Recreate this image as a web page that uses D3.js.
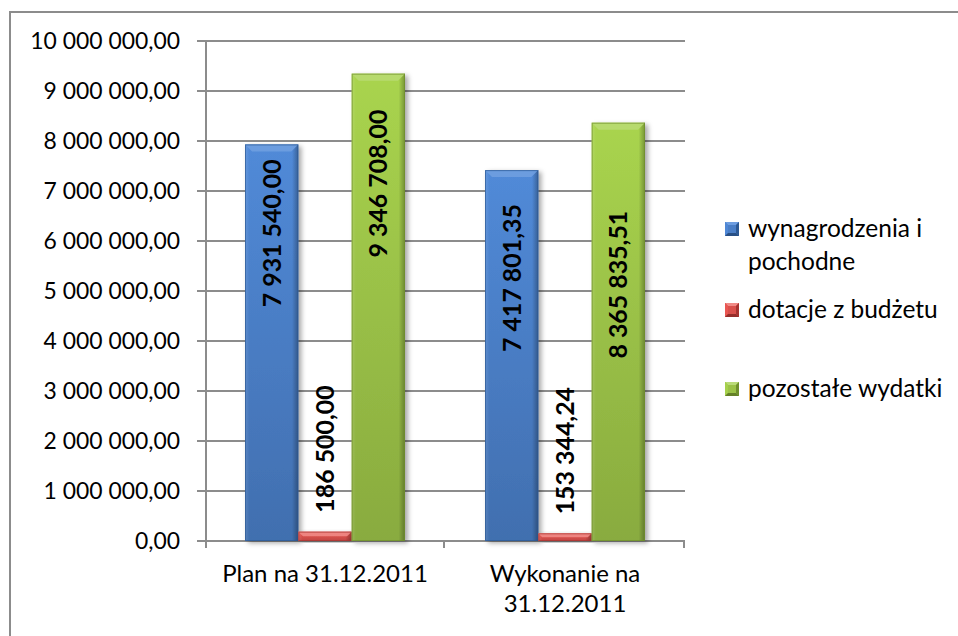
<!DOCTYPE html>
<html>
<head>
<meta charset="utf-8">
<script src="https://cdn.jsdelivr.net/npm/d3@7"></script>
<style>
	body { margin: 0; background: #fff; }
	svg text { font-family: Lato, "Open Sans", sans-serif; fill: #000; }
</style>
</head>
<body>
<svg id="main" width="958" height="636"></svg>
<script>

// data
let categories = ['Plan na 31.12.2011', 'Wykonanie na 31.12.2011'];
let seriesNames = ['wynagrodzenia i pochodne', 'dotacje z budżetu', 'pozostałe wydatki'];
let wynagrodzenia = [7931540.00, 7417801.35];
let dotacje = [186500.00, 153344.24];
let pozostale = [9346708.00, 8365835.51];
let yTicks = [0, 1e6, 2e6, 3e6, 4e6, 5e6, 6e6, 7e6, 8e6, 9e6, 10e6];

main();

function main() {

	let svg = d3.select('#main');

	let pl = d3.formatLocale({decimal: ',', thousands: ' ', grouping: [3], currency: ['', ' zł']});
	let fmt = pl.format(',.2f');

	let colors = {
		'wynagrodzenia i pochodne': {main: '#4a7ec6', light: '#6d9de0', dark: '#2c5893', label: '#6f9fe0'},
		'dotacje z budżetu': {main: '#d9504c', light: '#f08a86', dark: '#a63330', label: '#f08a86'},
		'pozostałe wydatki': {main: '#9bc247', light: '#badb78', dark: '#6f8f2c', label: '#b8da72'}
	};

	let series = [wynagrodzenia, dotacje, pozostale];

	// hand-placed label offsets in Excel (px from bar top to label end)
	let labelOffset = [[15, 34], [-19, -19], [36, 88]];

	let x0 = d3.scaleBand()
		.domain(categories)
		.range([205, 685])
		.paddingInner(1 / 3)
		.paddingOuter(1 / 6);

	let x1 = d3.scaleBand()
		.domain(seriesNames)
		.range([0, x0.bandwidth()]);

	let y = d3.scaleLinear()
		.domain([0, 10e6])
		.range([541, 41]);

	// outer frame
	svg.append('path')
		.attr('d', 'M10,640 L10,12 L960,12')
		.attr('fill', 'none')
		.attr('stroke', '#8c8c8c')
		.attr('stroke-width', 2);

	let defs = svg.append('defs');

	let shadow = defs.append('filter')
		.attr('id', 'shadow')
		.attr('x', '-20%').attr('y', '-20%')
		.attr('width', '160%').attr('height', '140%');
	shadow.append('feDropShadow')
		.attr('dx', 3).attr('dy', 2)
		.attr('stdDeviation', 2.5)
		.attr('flood-color', '#000')
		.attr('flood-opacity', 0.35);

	seriesNames.forEach((s, i) => {
		let c = colors[s];
		let g = defs.append('linearGradient')
			.attr('id', 'grad' + i)
			.attr('x1', 0).attr('y1', 0).attr('x2', 0).attr('y2', 1);
		g.append('stop').attr('offset', '0%').attr('stop-color', d3.color(c.main).brighter(0.25));
		g.append('stop').attr('offset', '100%').attr('stop-color', d3.color(c.main).darker(0.35));

		let edge = defs.append('linearGradient')
			.attr('id', 'edge' + i)
			.attr('x1', 0).attr('y1', 0).attr('x2', 1).attr('y2', 0);
		edge.append('stop').attr('offset', '0%').attr('stop-color', '#fff').attr('stop-opacity', 0.12);
		edge.append('stop').attr('offset', '8%').attr('stop-color', '#fff').attr('stop-opacity', 0);
		edge.append('stop').attr('offset', '88%').attr('stop-color', '#000').attr('stop-opacity', 0);
		edge.append('stop').attr('offset', '100%').attr('stop-color', '#000').attr('stop-opacity', 0.3);
	});

	// gridlines
	svg.append('g')
		.selectAll('line')
		.data(yTicks)
		.enter()
		.append('line')
		.attr('x1', 197)
		.attr('x2', 685)
		.attr('y1', d => y(d))
		.attr('y2', d => y(d))
		.attr('stroke', '#8c8c8c')
		.attr('stroke-width', 2);

	// y axis line
	svg.append('line')
		.attr('x1', 206).attr('x2', 206)
		.attr('y1', y(10e6)).attr('y2', 548)
		.attr('stroke', '#8c8c8c')
		.attr('stroke-width', 2);

	// x axis ticks
	let xBounds = [205, 445, 685];
	svg.append('g')
		.selectAll('line')
		.data(xBounds)
		.enter()
		.append('line')
		.attr('x1', d => d === 205 ? 206 : d - 1)
		.attr('x2', d => d === 205 ? 206 : d - 1)
		.attr('y1', 541)
		.attr('y2', 548)
		.attr('stroke', '#8c8c8c')
		.attr('stroke-width', 2);

	// y labels
	svg.append('g')
		.selectAll('text')
		.data(yTicks)
		.enter()
		.append('text')
		.attr('x', 180)
		.attr('y', d => y(d))
		.attr('dy', '0.36em')
		.attr('text-anchor', 'end')
		.style('font-size', '22.9px')
		.text(d => fmt(d));

	// x labels
	let xl = svg.append('g')
		.selectAll('text')
		.data(categories)
		.enter()
		.append('text')
		.attr('x', d => x0(d) + x0.bandwidth() / 2)
		.attr('y', 582)
		.attr('text-anchor', 'middle')
		.style('font-size', '24px');
	xl.each(function(d) {
		let el = d3.select(this);
		if (d.startsWith('Wykonanie')) {
			el.append('tspan').attr('x', x0(d) + x0.bandwidth() / 2).text('Wykonanie na');
			el.append('tspan').attr('x', x0(d) + x0.bandwidth() / 2).attr('dy', 30).text('31.12.2011');
		} else {
			el.text(d);
		}
	});

	// bars
	let bars = [];
	seriesNames.forEach((s, si) => {
		categories.forEach((c, ci) => {
			bars.push({series: s, si: si, cat: c, ci: ci, value: series[si][ci]});
		});
	});

	let bar = svg.append('g')
		.selectAll('.bar')
		.data(bars)
		.enter()
		.append('g')
		.attr('class', 'bar')
		.attr('transform', d => `translate(${x0(d.cat) + x1(d.series)},0)`);

	let bw = x1.bandwidth();

	bar.append('rect')
		.attr('x', 0)
		.attr('y', d => y(d.value))
		.attr('width', bw)
		.attr('height', d => y(0) - y(d.value))
		.attr('fill', d => `url(#grad${d.si})`)
		.attr('filter', 'url(#shadow)');

	bar.append('rect')
		.attr('x', 0)
		.attr('y', d => y(d.value))
		.attr('width', bw)
		.attr('height', d => y(0) - y(d.value))
		.attr('fill', d => `url(#edge${d.si})`);

	// top bevel
	bar.append('path')
		.attr('d', d => {
			let t = y(d.value), h = Math.min(7, (y(0) - t) / 2);
			return `M0,${t} L${bw},${t} L${bw - h},${t + h} L${h},${t + h} Z`;
		})
		.attr('fill', d => colors[d.series].label)
		.attr('opacity', 0.9);

	bar.append('rect')
		.attr('x', 0.5)
		.attr('y', d => y(d.value) + 0.5)
		.attr('width', bw - 1)
		.attr('height', d => Math.max(0, y(0) - y(d.value) - 1))
		.attr('fill', 'none')
		.attr('stroke', d => colors[d.series].dark)
		.attr('stroke-opacity', 0.7)
		.attr('stroke-width', 1);

	// value labels
	bar.append('text')
		.attr('transform', d => {
			let off = labelOffset[d.si][d.ci];
			return `translate(${bw / 2},${y(d.value) + off}) rotate(-90)`;
		})
		.attr('dy', '0.36em')
		.attr('text-anchor', d => d.si === 1 ? 'start' : 'end')
		.style('font-size', '24.9px')
		.style('font-weight', 'bold')
		.text(d => fmt(d.value));

	// legend
	let legendRows = [
		{name: seriesNames[0], lines: ['wynagrodzenia i', 'pochodne'], y: 237},
		{name: seriesNames[1], lines: ['dotacje z budżetu'], y: 318},
		{name: seriesNames[2], lines: ['pozostałe wydatki'], y: 397}
	];

	let leg = svg.append('g')
		.selectAll('g')
		.data(legendRows)
		.enter()
		.append('g')
		.attr('transform', d => `translate(725,${d.y - 15})`);

	let ms = 14;
	leg.each(function(d) {
		let g = d3.select(this), c = colors[d.name], k = 3;
		g.append('rect').attr('width', ms).attr('height', ms).attr('fill', c.main);
		g.append('path').attr('d', `M0,0 L${ms},0 L${ms - k},${k} L${k},${k} Z`).attr('fill', c.light);
		g.append('path').attr('d', `M0,0 L${k},${k} L${k},${ms - k} L0,${ms} Z`).attr('fill', d3.color(c.main).brighter(0.2));
		g.append('path').attr('d', `M${ms},0 L${ms},${ms} L${ms - k},${ms - k} L${ms - k},${k} Z`).attr('fill', c.dark);
		g.append('path').attr('d', `M0,${ms} L${ms},${ms} L${ms - k},${ms - k} L${k},${ms - k} Z`).attr('fill', d3.color(c.dark).darker(0.3));
	});

	leg.append('text')
		.attr('x', 23)
		.attr('y', 15)
		.style('font-size', '24.5px')
		.selectAll('tspan')
		.data(d => d.lines)
		.enter()
		.append('tspan')
		.attr('x', 23)
		.attr('dy', (d, i) => i === 0 ? 0 : 33)
		.text(d => d);

}
</script>
</body>
</html>
